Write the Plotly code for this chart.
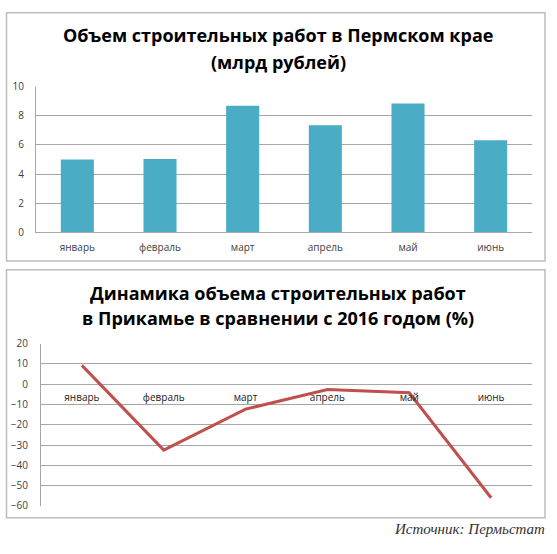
import plotly.graph_objects as go

W, H = 557, 554

months = ["январь", "февраль", "март", "апрель", "май", "июнь"]
volume_bln = [5.0, 5.03, 8.7, 7.35, 8.85, 6.33]
change_pct = [9.3, -32.5, -12.3, -2.6, -4.2, -56.0]

title_top = ["Объем строительных работ в Пермском крае", "(млрд рублей)"]
title_bottom = ["Динамика объема строительных работ",
                "в Прикамье в сравнении с 2016 годом (%)"]
source = "Источник: Пермьстат"


def px(x):
    # pixel -> paper x
    return x / W


def py(y):
    # pixel (from top) -> paper y
    return 1 - y / H


grid = "#a6a6a6"
tick_font = dict(family="Open Sans", size=10, color="#404040")

fig = go.Figure()
fig.add_trace(go.Bar(x=months, y=volume_bln, marker=dict(color="#4bacc6", line=dict(width=0)),
                     xaxis="x", yaxis="y", showlegend=False))
fig.add_trace(go.Scatter(x=months, y=change_pct, mode="lines",
                         line=dict(color="#c0504d", width=3),
                         xaxis="x2", yaxis="y2", showlegend=False))

fig.update_layout(
    width=W, height=H,
    margin=dict(l=0, r=0, t=0, b=0),
    paper_bgcolor="white", plot_bgcolor="white",
    bargap=0.6,
    xaxis=dict(domain=[px(36), px(532)], anchor="y", showgrid=False, showline=True,
               linecolor=grid, linewidth=1, ticks="", tickfont=tick_font,
               ticklabelstandoff=6),
    yaxis=dict(domain=[py(230.5), py(81)], anchor="x", range=[0, 10], dtick=2,
               showgrid=True, gridcolor=grid, gridwidth=1, showline=True,
               linecolor=grid, linewidth=1, ticks="", tickfont=tick_font,
               ticklabelstandoff=9, zeroline=False),
    xaxis2=dict(domain=[px(41), px(532)], anchor="free", position=py(386.7),
                range=[-0.5, 5.5], showgrid=False, showline=False, ticks="",
                ticklabelstandoff=6,
                tickfont=dict(family="Open Sans", size=10, color="#222222")),
    yaxis2=dict(domain=[py(511.7), py(345)], anchor="x2", range=[-60, 20], dtick=10,
                showgrid=True, gridcolor=grid, gridwidth=1, showline=True,
                linecolor=grid, linewidth=1, ticks="", tickfont=tick_font,
                ticklabelstandoff=10, zeroline=False),
)

# frames around both charts
for y0, y1 in [(5, 260), (269, 524)]:
    fig.add_shape(type="rect", xref="paper", yref="paper",
                  x0=px(6.5), x1=px(545), y0=py(y1), y1=py(y0),
                  line=dict(color="#bdbdbd", width=1.5))

title_font = dict(family="Open Sans", size=18, color="black", weight="bold")
for text, y in zip(title_top + title_bottom, [28, 56, 293, 319]):
    fig.add_annotation(text=text, xref="paper", yref="paper", x=px(278), y=py(y),
                       xanchor="center", yanchor="middle", showarrow=False,
                       font=title_font)
fig.add_annotation(text=source, xref="paper", yref="paper", x=px(547), y=py(536),
                   xanchor="right", yanchor="middle", showarrow=False,
                   font=dict(family="Liberation Serif", size=15, color="#333333",
                             style="italic"))

# drop the default page margin so figure pixels line up with the window
fig.write_html("out.html", config={"displayModeBar": False},
               post_script="document.body.style.margin='0';document.body.style.overflow='hidden';")
